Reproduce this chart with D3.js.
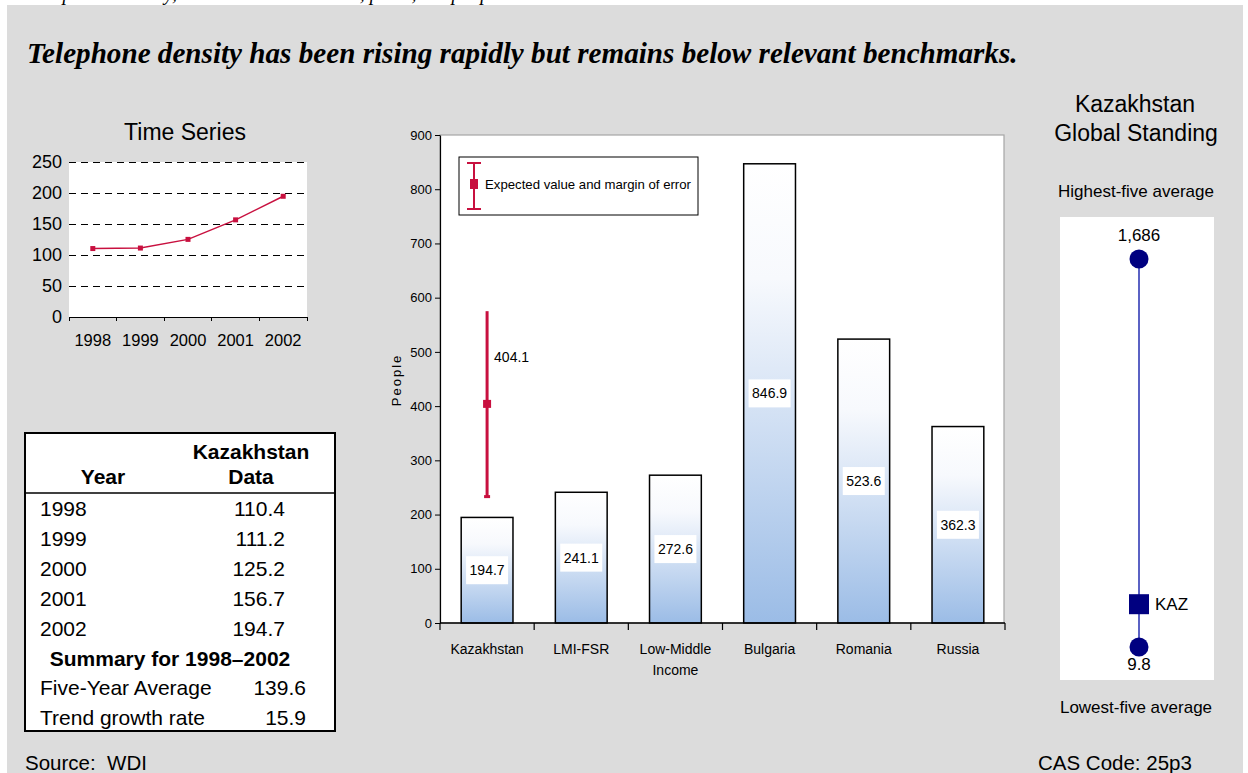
<!DOCTYPE html>
<html>
<head>
<meta charset="utf-8">
<script src="https://cdn.jsdelivr.net/npm/d3@7"></script>
<style>
  html, body { margin: 0; padding: 0; background: #fff; }
  svg { display: block; }
  text { white-space: pre; }
  .sans { font-family: "Liberation Sans", Arial, sans-serif; }
  .narrow { font-family: "Liberation Sans Narrow", "Arial Narrow", "Liberation Sans", Arial, sans-serif; }
</style>
</head>
<body>
<svg id="chart" width="1248" height="773"></svg>
<script>
// ---- data ----
const years = ["1998", "1999", "2000", "2001", "2002"];
const kazValues = [110.4, 111.2, 125.2, 156.7, 194.7];
const tsTicks = [0, 50, 100, 150, 200, 250];

const summaryLabels = ["Five-Year Average", "Trend growth rate"];
const summaryValues = ["139.6", "15.9"];

const categories = ["Kazakhstan", "LMI-FSR", "Low-Middle Income", "Bulgaria", "Romania", "Russia"];
const barValues = [194.7, 241.1, 272.6, 846.9, 523.6, 362.3];
const barTicks = [0, 100, 200, 300, 400, 500, 600, 700, 800, 900];
const expectedValue = 404.1;
const marginOfError = 171;

const standingLow = 9.8;
const standingHigh = 1686;
const standingKaz = 194.7;

// ---- palette ----
const BG = "#dcdcdc";
const RED = "#c8103f";
const NAVY = "#000080";

const svg = d3.select("#chart");

// headline of the preceding section, mostly hidden above the panel
svg.append("text")
  .attr("x", 30).attr("y", 0)
  .attr("font-family", "Liberation Serif, Times New Roman, serif")
  .attr("font-style", "italic").attr("font-size", 20)
  .text("Telephone density, mainlines and cellular, per 1,000 people");

svg.append("rect").attr("x", 7).attr("y", 5).attr("width", 1236).attr("height", 768).attr("fill", BG);

const title = svg.append("text")
  .attr("x", 27).attr("y", 63)
  .attr("font-family", "Liberation Serif, Times New Roman, serif")
  .attr("font-style", "italic").attr("font-weight", "bold").attr("font-size", 24)
  .text("Telephone density has been rising rapidly but remains below relevant benchmarks.");
{
  const w = title.node().getComputedTextLength();
  if (w > 0) title.attr("font-size", 24 * 991 / w);
}

// ================= Time series =================
{
  const g = svg.append("g").attr("class", "sans");
  const x = d3.scaleBand().domain(years).range([69, 307]);
  const y = d3.scaleLinear().domain([0, 250]).range([317, 162]);

  g.append("text").attr("x", 185).attr("y", 140).attr("text-anchor", "middle")
    .attr("font-size", 23).text("Time Series");

  g.append("rect").attr("x", 69).attr("y", y(250)).attr("width", 307 - 69).attr("height", y(0) - y(250)).attr("fill", "#fff");

  g.selectAll("line.grid").data(tsTicks.filter(d => d > 0)).join("line")
    .attr("x1", 69).attr("x2", 307).attr("y1", d => y(d)).attr("y2", d => y(d))
    .attr("stroke", "#000").attr("stroke-dasharray", "7,5").attr("shape-rendering", "crispEdges");

  g.selectAll("text.ylab").data(tsTicks).join("text")
    .attr("x", 62).attr("y", d => y(d)).attr("dy", "0.35em").attr("text-anchor", "end")
    .attr("font-size", 18).text(d => d);

  // x axis with ticks at category boundaries
  g.append("line").attr("x1", 69).attr("x2", 307).attr("y1", y(0)).attr("y2", y(0)).attr("stroke", "#000")
    .attr("shape-rendering", "crispEdges");
  const bounds = years.map(d => x(d)).concat([307]);
  g.selectAll("line.xt").data(bounds).join("line")
    .attr("x1", d => d).attr("x2", d => d).attr("y1", y(0)).attr("y2", y(0) + 4).attr("stroke", "#000")
    .attr("shape-rendering", "crispEdges");
  g.selectAll("text.xlab").data(years).join("text")
    .attr("x", d => x(d) + x.bandwidth() / 2).attr("y", 346).attr("text-anchor", "middle")
    .attr("font-size", 16.5).text(d => d);

  const line = d3.line().x((d, i) => x(years[i]) + x.bandwidth() / 2).y(d => y(d));
  g.append("path").attr("d", line(kazValues)).attr("fill", "none").attr("stroke", RED).attr("stroke-width", 1.5);
  g.selectAll("rect.pt").data(kazValues).join("rect")
    .attr("x", (d, i) => x(years[i]) + x.bandwidth() / 2 - 2.5).attr("y", d => y(d) - 2.5)
    .attr("width", 5).attr("height", 5).attr("fill", RED);
}

// ================= Data table =================
{
  const g = svg.append("g").attr("class", "sans").attr("font-size", 21);
  g.append("rect").attr("x", 25).attr("y", 433).attr("width", 310).attr("height", 298)
    .attr("fill", "#fff").attr("stroke", "#000").attr("stroke-width", 2);
  g.append("text").attr("x", 251).attr("y", 459).attr("text-anchor", "middle").attr("font-weight", "bold").text("Kazakhstan");
  g.append("text").attr("x", 103).attr("y", 484).attr("text-anchor", "middle").attr("font-weight", "bold").text("Year");
  g.append("text").attr("x", 251).attr("y", 484).attr("text-anchor", "middle").attr("font-weight", "bold").text("Data");
  g.append("line").attr("x1", 25).attr("x2", 335).attr("y1", 493).attr("y2", 493).attr("stroke", "#000").attr("stroke-width", 1.5);

  const rowY = d3.scaleLinear().domain([0, 1]).range([516, 546]);
  years.forEach((yr, i) => {
    g.append("text").attr("x", 40).attr("y", rowY(i)).text(yr);
    g.append("text").attr("x", 285).attr("y", rowY(i)).attr("text-anchor", "end").text(kazValues[i].toFixed(1));
  });
  g.append("text").attr("x", 170).attr("y", rowY(5)).attr("text-anchor", "middle").attr("font-weight", "bold")
    .text("Summary for 1998\u20132002");
  summaryLabels.forEach((lab, i) => {
    g.append("text").attr("x", 40).attr("y", rowY(6 + i) - 1).text(lab);
    g.append("text").attr("x", 306).attr("y", rowY(6 + i) - 1).attr("text-anchor", "end").text(summaryValues[i]);
  });
}

// ================= Bar chart =================
{
  const g = svg.append("g").attr("class", "narrow");
  const left = 440, right = 1005, top = 135, bottom = 623;
  const x = d3.scaleBand().domain(categories).range([left, right]).paddingInner(0.45).paddingOuter(0.225);
  const xb = d3.scaleBand().domain(categories).range([left, right]);
  const y = d3.scaleLinear().domain([0, 900]).range([bottom, top]);

  const defs = svg.append("defs");
  const grad = defs.append("linearGradient").attr("id", "barGrad").attr("x1", 0).attr("y1", 0).attr("x2", 0).attr("y2", 1);
  grad.append("stop").attr("offset", "0%").attr("stop-color", "#ffffff");
  grad.append("stop").attr("offset", "25%").attr("stop-color", "#f7f9fd");
  grad.append("stop").attr("offset", "100%").attr("stop-color", "#9bbce6");

  g.append("rect").attr("x", left).attr("y", top).attr("width", right - left - 1).attr("height", bottom - top)
    .attr("fill", "#fff").attr("stroke", "#a6a6a6").attr("stroke-width", 1.2);

  // bars
  g.selectAll("rect.bar").data(barValues).join("rect")
    .attr("x", (d, i) => x(categories[i])).attr("y", d => y(d))
    .attr("width", x.bandwidth()).attr("height", d => y(0) - y(d))
    .attr("fill", "url(#barGrad)").attr("stroke", "#000").attr("stroke-width", 1.5);

  // value labels in white boxes
  const lab = g.selectAll("g.vl").data(barValues).join("g")
    .attr("transform", (d, i) => `translate(${x(categories[i]) + x.bandwidth() / 2},${(y(d) + y(0)) / 2})`);
  lab.append("rect").attr("x", -21).attr("y", -14).attr("width", 42).attr("height", 28).attr("fill", "#fff");
  lab.append("text").attr("text-anchor", "middle").attr("dy", "0.35em").attr("font-size", 14).text(d => d.toFixed(1));

  // axes
  const yAxis = d3.axisLeft(y).tickValues(barTicks).tickSize(5).tickSizeOuter(0);
  const ya = g.append("g").attr("transform", `translate(${left},0)`).call(yAxis);
  ya.select(".domain").attr("stroke", "#000").attr("stroke-width", 1.2);
  ya.selectAll("text").attr("font-size", 13).attr("font-family", null).attr("fill", "#000");

  g.append("line").attr("x1", left).attr("x2", right).attr("y1", bottom).attr("y2", bottom).attr("stroke", "#000").attr("stroke-width", 1.5);
  const bds = categories.map(c => xb(c)).concat([right]);
  g.selectAll("line.xt").data(bds).join("line")
    .attr("x1", d => d).attr("x2", d => d).attr("y1", bottom).attr("y2", bottom + 7)
    .attr("stroke", "#000").attr("stroke-width", 1.2);

  const cl = g.selectAll("text.cat").data(categories).join("text")
    .attr("x", d => xb(d) + xb.bandwidth() / 2).attr("y", 654).attr("text-anchor", "middle").attr("font-size", 14);
  cl.each(function (d) {
    const parts = d === "Low-Middle Income" ? ["Low-Middle", "Income"] : [d];
    d3.select(this).selectAll("tspan").data(parts).join("tspan")
      .attr("x", xb(d) + xb.bandwidth() / 2).attr("dy", (p, i) => i ? 21 : 0).text(p => p);
  });

  g.append("text").attr("transform", `translate(401,380) rotate(-90)`).attr("text-anchor", "middle")
    .attr("font-size", 13).attr("letter-spacing", 2).text("People");

  // expected value with margin of error
  const cx = x(categories[0]) + x.bandwidth() / 2;
  g.append("line").attr("x1", cx).attr("x2", cx)
    .attr("y1", y(expectedValue + marginOfError)).attr("y2", y(expectedValue - marginOfError))
    .attr("stroke", RED).attr("stroke-width", 3);
  g.append("line").attr("x1", cx - 3).attr("x2", cx + 3)
    .attr("y1", y(expectedValue - marginOfError)).attr("y2", y(expectedValue - marginOfError))
    .attr("stroke", RED).attr("stroke-width", 3);
  g.append("rect").attr("x", cx - 4).attr("y", y(expectedValue) - 4).attr("width", 8).attr("height", 8).attr("fill", RED);
  g.append("text").attr("x", cx + 7).attr("y", (y(expectedValue) + y(expectedValue + marginOfError)) / 2)
    .attr("dy", "0.35em").attr("font-size", 14).text(expectedValue.toFixed(1));

  // legend
  const lg = g.append("g");
  lg.append("rect").attr("x", 459).attr("y", 157).attr("width", 239).attr("height", 58)
    .attr("fill", "#fff").attr("stroke", "#000").attr("stroke-width", 1);
  lg.append("line").attr("x1", 474).attr("x2", 474).attr("y1", 163).attr("y2", 209).attr("stroke", RED).attr("stroke-width", 2);
  lg.append("line").attr("x1", 467).attr("x2", 481).attr("y1", 163).attr("y2", 163).attr("stroke", RED).attr("stroke-width", 2);
  lg.append("line").attr("x1", 467).attr("x2", 481).attr("y1", 209).attr("y2", 209).attr("stroke", RED).attr("stroke-width", 2);
  lg.append("rect").attr("x", 470).attr("y", 179).attr("width", 8).attr("height", 10).attr("fill", RED);
  lg.append("text").attr("x", 485).attr("y", 184).attr("dy", "0.35em").attr("font-size", 13.2)
    .text("Expected value and margin of error");
}

// ================= Global standing =================
{
  const g = svg.append("g").attr("class", "sans");
  const y = d3.scaleLinear().domain([standingLow, standingHigh]).range([647, 259]);
  const cx = 1139;

  g.append("text").attr("x", 1135).attr("y", 112).attr("text-anchor", "middle").attr("font-size", 23).text("Kazakhstan");
  g.append("text").attr("x", 1136).attr("y", 141).attr("text-anchor", "middle").attr("font-size", 23).text("Global Standing");
  g.append("text").attr("x", 1136).attr("y", 197).attr("text-anchor", "middle").attr("font-size", 17).text("Highest-five average");

  g.append("rect").attr("x", 1060).attr("y", 217).attr("width", 154).attr("height", 463).attr("fill", "#fff");
  g.append("line").attr("x1", cx).attr("x2", cx).attr("y1", y(standingHigh)).attr("y2", y(standingLow))
    .attr("stroke", "#5b62c4").attr("stroke-width", 2);
  g.selectAll("circle").data([standingHigh, standingLow]).join("circle")
    .attr("cx", cx).attr("cy", d => y(d)).attr("r", 9.5).attr("fill", NAVY);
  g.append("rect").attr("x", cx - 10).attr("y", y(standingKaz) - 10).attr("width", 20).attr("height", 20).attr("fill", NAVY);
  g.append("text").attr("x", cx + 16).attr("y", y(standingKaz)).attr("dy", "0.35em").attr("font-size", 17).text("KAZ");
  g.append("text").attr("x", cx).attr("y", y(standingHigh) - 18).attr("text-anchor", "middle").attr("font-size", 17)
    .text(d3.format(",")(standingHigh));
  g.append("text").attr("x", cx).attr("y", y(standingLow) + 23).attr("text-anchor", "middle").attr("font-size", 17)
    .text(standingLow.toFixed(1));
  g.append("text").attr("x", 1136).attr("y", 713).attr("text-anchor", "middle").attr("font-size", 17).text("Lowest-five average");
}

// footer
svg.append("text").attr("class", "sans").attr("x", 25).attr("y", 770).attr("font-size", 20.5).text("Source:  WDI");
svg.append("text").attr("class", "sans").attr("x", 1038).attr("y", 770).attr("font-size", 20.5).text("CAS Code: 25p3");
</script>
</body>
</html>
